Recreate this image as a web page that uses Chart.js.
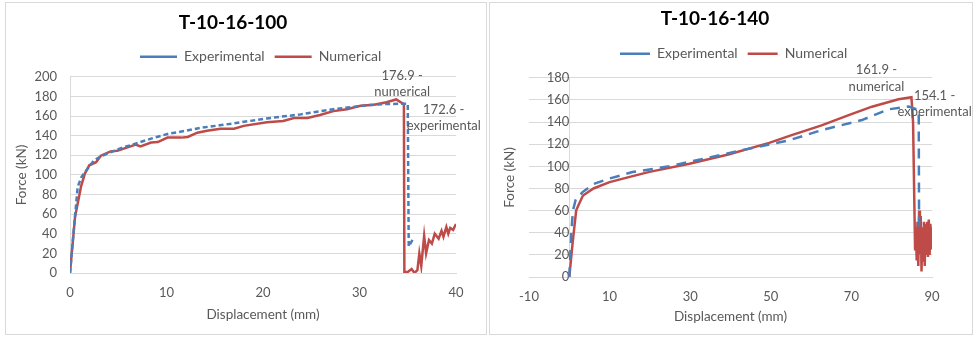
<!DOCTYPE html>
<html>
<head>
  <script src="https://cdn.jsdelivr.net/npm/chart.js"></script>
  <style>
    body { margin: 0; background: #fff; }
    .box { position: absolute; top: 2px; height: 331px; border: 1px solid #d9d9d9; background: #fff; }
    #box1 { left: 5px; width: 480px; }
    #box2 { left: 489px; width: 482px; }
  </style>
</head>
<body>
  <div class="box" id="box1"><canvas id="chart1"></canvas></div>
  <div class="box" id="box2"><canvas id="chart2"></canvas></div>
  <script>
    const seriesNames = ['Experimental', 'Numerical'];
    const titles = ['T-10-16-100', 'T-10-16-140'];

    // T-10-16-100
    const dispExp100 = [0, 0.4, 0.8, 1.2, 1.8, 2.5, 3.2, 4.2, 5.5, 6.7, 8.4, 10.1, 12, 13.5, 15.5, 17, 20.4, 23.9, 27.3, 30.8, 32.8, 34.2, 35.0, 35.1, 35.5];
    const forceExp100 = [0, 45, 88, 98, 106, 115, 119, 123, 128, 131.6, 137, 141.7, 145, 148, 150.5, 152.6, 157.6, 161.7, 167, 171, 172.3, 172.5, 172.6, 27, 33.8];
    const dispNum100 = [0, 0.52, 1.14, 1.55, 2.0, 2.7, 3.2, 4.2, 4.9, 5.96, 6.8, 7.3, 8.4, 9.1, 10.1, 11.5, 12.2, 13.2, 14.2, 15.6, 17, 18, 20.4, 22.1, 23.2, 24.6, 25.9, 27.3, 28.7, 30.1, 31.5, 32.8, 33.8, 34.6, 34.65, 35, 35.4, 35.7, 36.0, 36.2, 36.4, 36.7, 36.9, 37.2, 37.5, 37.8, 38.2, 38.5, 38.7, 39, 39.2, 39.4, 39.7, 40];
    const forceNum100 = [0, 57, 88, 101.6, 109.8, 113, 119.6, 124, 124.7, 128, 131, 129, 133, 133.5, 138, 138, 138.7, 143, 145, 147, 147, 150, 153.7, 155, 158, 158, 161, 165, 167, 170.5, 171.5, 174, 176.9, 172, 1, 1, 4, 0, 3, 20, 7, 38, 20, 33.6, 30, 40, 35, 43, 37, 47, 40, 46, 44, 50];

    // T-10-16-140
    const dispExp140 = [0, 0.2, 0.5, 0.9, 1.6, 3.3, 6, 10, 15.7, 24.8, 34.7, 44.7, 54.6, 62.6, 72.6, 79.2, 84.2, 86.7, 86.8];
    const forceExp140 = [0, 15, 40, 60, 70, 76.7, 84, 89, 94.8, 100, 108, 116, 123.6, 132.7, 141.8, 151.5, 154.1, 151, 40];
    const dispNum140 = [0, 0.8, 1.7, 2.4, 3.4, 6, 10, 15, 19.9, 29.8, 39.7, 49.6, 55, 62.6, 69.5, 75.1, 81.7, 84.9, 85.3, 85.8, 86.0, 86.2, 86.4, 86.6, 86.8, 87.0, 87.2, 87.4, 87.6, 87.8, 88.0, 88.2, 88.4, 88.6, 88.8, 89.0, 89.2, 89.4, 89.6, 89.8, 90];
    const forceNum140 = [0, 30, 60, 66, 73.6, 80, 85.7, 90.5, 95, 102.4, 110.9, 121.2, 128, 137, 146.5, 153.9, 160.6, 162.5, 140, 25, 45, 15, 50, 10, 60, 20, 55, 5, 45, 15, 50, 10, 48, 20, 50, 18, 52, 20, 48, 25, 45];

    const blue = '#4a7ebb';
    const red = '#be4b48';
    const grey = '#595959';
    const gridCol = '#d9d9d9';
    const font = 'Lato, "Open Sans", sans-serif';

    function pts(xs, ys) {
      return xs.map((x, i) => ({ x: x, y: ys[i] }));
    }

    // text beside the peak of each series
    const peakText = {
      id: 'peakText',
      afterDatasetsDraw(chart, args, opts) {
        const ctx = chart.ctx;
        ctx.save();
        ctx.font = '13px ' + font;
        ctx.fillStyle = grey;
        ctx.textAlign = 'center';
        ctx.textBaseline = 'middle';
        opts.items.forEach(it => {
          const p = chart.getDatasetMeta(it.ds).data[it.idx];
          it.lines.forEach((t, k) => {
            ctx.fillText(t, p.x + it.dx, p.y + it.dy + k * 16.5);
          });
        });
        ctx.restore();
      }
    };

    // move the legend so it starts where the excel one does
    const legendStart = {
      id: 'legendStart',
      afterLayout(chart, args, opts) {
        const lg = chart.legend;
        if (!lg || !lg.lineWidths) return;
        const pad = lg.options.labels.padding;
        const start = (lg.left + pad + lg.right - lg.lineWidths[0]) / 2;
        const shift = opts.x - start;
        lg.left += shift;
        lg.right += shift;
      }
    };

    function makeChart(id, n, d, c) {
      const scales = {
        x: {
          type: 'linear', min: c.xmin, max: c.xmax,
          ticks: { stepSize: c.xstep, color: grey, font: { family: font, size: 13 }, padding: 12 },
          grid: { display: false, drawTicks: false },
          border: { color: gridCol },
          title: { display: true, text: 'Displacement (mm)', color: grey, font: { family: font, size: 13.5 }, padding: { top: 4, bottom: 4 } },
          afterFit: s => { s.height = c.xHeight; }
        },
        y: {
          min: 0, max: c.ymax,
          ticks: { stepSize: 20, display: !c.axisAtZero, color: grey, font: { family: font, size: 13 }, padding: 13 },
          grid: { color: gridCol, drawTicks: false },
          border: { display: !c.axisAtZero, color: gridCol },
          title: { display: true, text: 'Force (kN)', color: grey, font: { family: font, size: 13.5 } },
          afterFit: s => { s.width = c.yWidth; }
        }
      };
      if (c.axisAtZero) {
        scales.y2 = {
          axis: 'y', position: { x: 0 }, min: 0, max: c.ymax,
          ticks: { stepSize: 20, color: grey, font: { family: font, size: 13 }, padding: 13 },
          grid: { display: false, drawTicks: false },
          border: { color: gridCol }
        };
      }
      return new Chart(document.getElementById(id), {
        type: 'line',
        data: {
          datasets: [
            { label: seriesNames[0], data: pts(d[0], d[1]), borderColor: blue, backgroundColor: blue, borderWidth: 2.5, borderDash: c.dash, pointRadius: 0, tension: 0 },
            { label: seriesNames[1], data: pts(d[2], d[3]), borderColor: red, backgroundColor: red, borderWidth: 2.5, pointRadius: 0, tension: 0 }
          ]
        },
        options: {
          responsive: false, animation: false,
          layout: { padding: { top: 0, right: c.padRight, bottom: c.padBottom, left: c.padLeft } },
          scales: scales,
          plugins: {
            title: { display: true, text: titles[n], color: '#000', font: { family: font, size: 19, weight: 'bold' }, padding: { top: c.titleTop, bottom: c.titleBottom } },
            legend: {
              weight: 1800,
              labels: { usePointStyle: true, pointStyle: 'line', pointStyleWidth: c.legendLine, boxHeight: 2, color: grey, font: { family: font, size: 14 }, padding: 10 }
            },
            // empty subtitle used as a gap under the legend
            subtitle: { display: true, text: '', font: { size: 1, lineHeight: 1 }, padding: { top: c.gap, bottom: 0 } },
            tooltip: { enabled: false },
            legendStart: { x: c.legendX },
            peakText: { items: c.labels }
          }
        },
        plugins: [peakText, legendStart]
      });
    }

    document.getElementById('chart1').width = 480;
    document.getElementById('chart1').height = 331;
    document.getElementById('chart2').width = 482;
    document.getElementById('chart2').height = 331;

    makeChart('chart1', 0, [dispExp100, forceExp100, dispNum100, forceNum100], {
      xmin: 0, xmax: 40, xstep: 10, ymax: 200, dash: [5, 3], axisAtZero: false,
      yWidth: 60, padLeft: 4, padRight: 30, padBottom: 7, xHeight: 54,
      titleTop: 8, titleBottom: 6, gap: 2, legendLine: 37, legendX: 134,
      labels: [
        { ds: 1, idx: 32, dx: 6, dy: -24, lines: ['176.9 -', 'numerical'] },
        { ds: 0, idx: 22, dx: 36, dy: 6, lines: ['172.6 -', 'experimental'] }
      ]
    });

    makeChart('chart2', 1, [dispExp140, forceExp140, dispNum140, forceNum140], {
      xmin: -10, xmax: 90, xstep: 20, ymax: 180, dash: [10, 7], axisAtZero: true,
      yWidth: 31, padLeft: 8, padRight: 40, padBottom: 5, xHeight: 52,
      titleTop: 4, titleBottom: 7, gap: 6, legendLine: 30, legendX: 130,
      labels: [
        { ds: 1, idx: 17, dx: -35, dy: -27, lines: ['161.9 -', 'numerical'] },
        { ds: 0, idx: 16, dx: 26, dy: -11, lines: ['154.1 -', 'experimental'] }
      ]
    });
  </script>
</body>
</html>
